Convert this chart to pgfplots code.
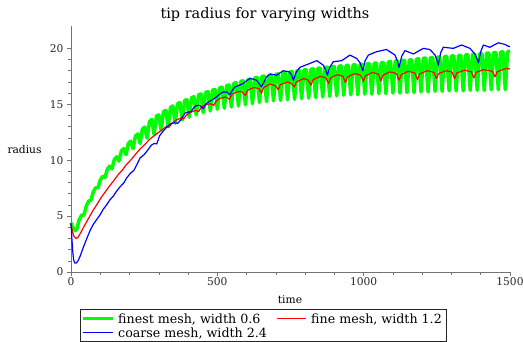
\documentclass[border=0pt]{standalone}
\usepackage{fontspec}
\setmainfont{DejaVu Serif}
\usepackage{pgfplots}
\pgfplotsset{compat=1.18}
\definecolor{cgreen}{RGB}{0,255,0}
\definecolor{cred}{RGB}{255,0,0}
\definecolor{cblue}{RGB}{0,0,255}
\begin{document}
\begin{tikzpicture}
\begin{axis}[
  scale only axis, width=439bp, height=246bp,
  xmin=0, xmax=1500, ymin=0, ymax=22,
  axis lines=left, axis line style={-, black!55, line width=0.6pt},
  xtick={0,500,1000,1500}, ytick={0,5,10,15,20},
  minor x tick num=4, minor y tick num=4,
  tick align=outside, major tick length=4bp, minor tick length=2.5bp,
  every tick/.style={black!55, line width=0.6pt},
  tick label style={font=\fontsize{10.7}{12}\selectfont, text=black!85},
  xticklabel style={yshift=1.5bp},
  /pgf/number format/assume math mode=true,
  /pgf/number format/1000 sep={},
  clip=false,
  title={tip radius for varying widths},
  every axis title shift=0pt,
  title style={font=\fontsize{14.5}{17}\selectfont, at={(axis description cs:0.4419,1.0305)}, anchor=base},
  xlabel={time}, ylabel={radius},
  every axis x label/.style={at={(axis description cs:0.4989,-0.1272)}, anchor=base, font=\fontsize{10.7}{12}\selectfont},
  every axis y label/.style={at={(axis description cs:-0.1059,0.496)}, anchor=center, font=\fontsize{10.7}{12}\selectfont},
]
\addplot[color=cgreen, line width=3.5pt, line join=round] coordinates {
(0,4.4)(8,3.9)(15,3.7)(20,3.85)
(28,4.68)(36,5.08)(44,5.08)
(52,5.88)(60,6.33)(68,6.42)
(76,7.16)(84,7.53)(92,7.54)
(100,8.22)(108,8.56)(116,8.45)
(124,9.18)(132,9.47)(140,9.22)
(148,10.05)(156,10.3)(164,9.92)
(172,10.82)(180,11.03)(188,10.5)
(196,11.5)(204,11.7)(212,11.02)
(220,12.15)(228,12.35)(236,11.5)
(244,12.78)(252,12.97)(260,11.97)
(268,13.45)(276,13.65)(284,12.3)
(292,13.95)(300,14.05)(308,12.7)
(316,14.35)(324,14.45)(332,13.0)
(340,14.72)(348,14.85)(356,13.3)
(364,15.05)(372,15.15)(380,13.6)
(388,15.33)(396,15.42)(404,13.85)
(412,15.6)(420,15.67)(428,14.05)
(436,15.85)(444,15.92)(452,14.25)
(460,16.07)(468,16.13)(476,14.4)
(484,16.27)(492,16.33)(500,14.55)
(508,16.47)(516,16.53)(524,14.65)
(532,16.67)(540,16.73)(548,14.75)
(556,16.87)(564,16.93)(572,14.85)
(580,17.05)(588,17.1)(596,14.95)
(604,17.2)(612,17.25)(620,15.05)
(628,17.35)(636,17.4)(644,15.15)
(652,17.48)(660,17.52)(668,15.25)
(676,17.58)(684,17.62)(692,15.3)
(700,17.68)(708,17.72)(716,15.35)
(724,17.78)(732,17.82)(740,15.4)
(748,17.88)(756,17.92)(764,15.45)
(772,17.98)(780,18.02)(788,15.5)
(796,18.07)(804,18.08)(812,15.55)
(820,18.13)(828,18.17)(836,15.6)
(844,18.22)(852,18.23)(860,15.65)
(868,18.28)(876,18.32)(884,15.7)
(892,18.37)(900,18.38)(908,15.75)
(916,18.42)(924,18.43)(932,15.8)
(940,18.47)(948,18.48)(956,15.85)
(964,18.52)(972,18.53)(980,15.85)
(988,18.57)(996,18.58)(1004,15.9)
(1012,18.62)(1020,18.63)(1028,15.9)
(1036,18.67)(1044,18.68)(1052,15.95)
(1060,18.72)(1068,18.73)(1076,15.95)
(1084,18.78)(1092,18.82)(1100,16.0)
(1108,18.87)(1116,18.88)(1124,16.0)
(1132,18.92)(1140,18.93)(1148,16.05)
(1156,18.97)(1164,18.98)(1172,16.05)
(1180,19.03)(1188,19.07)(1196,16.1)
(1204,19.12)(1212,19.13)(1220,16.1)
(1228,19.17)(1236,19.18)(1244,16.15)
(1252,19.22)(1260,19.23)(1268,16.15)
(1276,19.27)(1284,19.28)(1292,16.2)
(1300,19.32)(1308,19.33)(1316,16.2)
(1324,19.37)(1332,19.38)(1340,16.2)
(1348,19.42)(1356,19.43)(1364,16.25)
(1372,19.47)(1380,19.48)(1388,16.25)
(1396,19.52)(1404,19.53)(1412,16.25)
(1420,19.57)(1428,19.58)(1436,16.3)
(1444,19.62)(1452,19.63)(1460,16.3)
(1468,19.67)(1476,19.68)(1484,16.3)
(1492,19.72)(1500,19.75)
};
\addplot[color=cred, line width=1.2pt, line join=round] coordinates {
(0,4.3)(5,3.6)(10,3.2)(17,3.0)(24,3.1)(35,3.6)(47,4.2)(60,4.8)(75,5.5)(90,6.1)
(104,6.7)(118,7.2)(132,7.7)(147,8.2)(161,8.7)(175,9.1)(189,9.6)(204,10.0)(218,10.45)
(236,11.0)(252,11.4)(270,11.9)(290,12.3)(310,12.7)
(325,13.0)(335,12.95)(345,13.3)(360,13.6)(375,13.75)(385,13.7)(395,14.05)(410,14.3)
(425,14.45)(436,14.35)(446,14.75)(460,14.95)(475,15.05)(488,14.9)(498,15.35)(512,15.55)
(528,15.65)(541,15.45)(551,15.9)(566,16.1)(582,16.15)
(596,15.8)(603,16.25)(625,16.5)(642,16.4)(651,16.0)
(658,16.5)(680,16.8)(699,16.65)(708,16.3)
(715,16.75)(740,17.0)(754,16.85)(763,16.55)
(770,17.0)(795,17.3)(811,17.15)(820,16.7)
(827,17.2)(852,17.5)(871,17.35)(880,16.85)
(887,17.35)(910,17.65)(929,17.5)(938,16.95)
(945,17.45)(970,17.75)(990,17.6)(999,17.05)
(1006,17.55)(1030,17.85)(1050,17.7)(1059,17.1)
(1066,17.6)(1090,17.9)(1112,17.75)(1121,17.15)
(1128,17.65)(1152,17.95)(1175,17.8)(1184,17.2)
(1191,17.7)(1216,18.0)(1240,17.85)(1249,17.3)
(1256,17.75)(1282,18.0)(1302,17.88)(1311,17.3)
(1318,17.8)(1345,18.05)(1368,17.9)(1377,17.35)
(1384,17.85)(1410,18.1)(1440,17.95)(1449,17.45)
(1456,17.9)(1480,18.15)(1490,18.2)(1500,18.15)
};
\addplot[color=cblue, line width=1.2pt, line join=round] coordinates {
(0,4.4)(3,3.0)(6,1.8)(9,1.1)(13,0.8)(18,0.8)(24,1.0)(31,1.4)(42,2.2)(54,3.0)(65,3.7)
(76,4.25)(88,4.7)(99,5.1)(110,5.6)(120,5.95)(133,6.45)(145,6.8)(155,7.2)(167,7.6)
(180,7.95)(190,8.4)(202,8.8)(215,9.1)(225,9.6)(236,10.2)(250,10.5)(262,10.9)(275,11.35)
(285,11.5)(293,11.45)(303,12.2)(315,12.6)(327,12.95)(340,13.25)(352,13.35)(365,13.3)
(375,13.6)(389,14.2)(400,14.3)(410,14.35)(420,14.7)(429,14.9)(440,14.9)(452,14.6)
(460,15.0)(469,15.2)(483,15.4)(497,15.65)(510,15.95)(520,16.1)(532,16.1)(543,15.85)
(552,16.3)(560,16.55)(575,16.7)(588,16.85)(600,17.1)(611,17.3)(622,17.25)(634,17.15)
(644,16.8)(651,16.55)
(668,17.45)(680,17.7)(703,17.6)(725,18.0)(746,17.9)(754,17.6)(760,17.15)(770,17.9)
(782,18.3)(811,18.6)(840,18.9)(862,18.5)(870,18.1)(876,17.6)(884,18.3)(896,18.8)
(925,18.9)(953,19.4)(976,19.1)(988,18.7)(997,18.0)(1005,18.9)(1016,19.4)(1044,19.7)
(1078,19.9)(1107,19.4)(1115,18.9)(1121,18.3)(1130,19.3)(1141,19.8)(1170,19.5)(1204,20.0)
(1226,19.9)(1244,19.4)(1250,19.0)(1255,18.5)(1263,19.6)(1272,20.1)(1306,20.0)(1335,20.3)
(1363,20.0)(1380,19.5)(1387,19.1)(1392,18.7)(1400,19.7)(1409,20.3)(1431,20.1)(1460,20.5)
(1483,20.35)(1494,20.2)(1500,20.15)
};
\end{axis}
% legend
\draw[black!85, line width=0.6pt] (9bp,-37.5bp) rectangle (375bp,-69.6bp);
\draw[cgreen, line width=3.5pt] (12bp,-46.5bp) -- (42bp,-46.5bp);
\draw[cred, line width=1.2pt] (206bp,-46.5bp) -- (235bp,-46.5bp);
\draw[cblue, line width=1.2pt] (12bp,-60.5bp) -- (42bp,-60.5bp);
\begin{scope}[every node/.style={anchor=base west, inner sep=0pt, font=\fontsize{12.7}{14}\selectfont}]
\node at (47bp,-51.3bp) {finest mesh, width 0.6};
\node at (240bp,-51.3bp) {fine mesh, width 1.2};
\node at (47bp,-65.3bp) {coarse mesh, width 2.4};
\end{scope}
\pgfresetboundingbox
\useasboundingbox (-71bp,-70bp) rectangle (452bp,272bp);
\end{tikzpicture}
\end{document}
